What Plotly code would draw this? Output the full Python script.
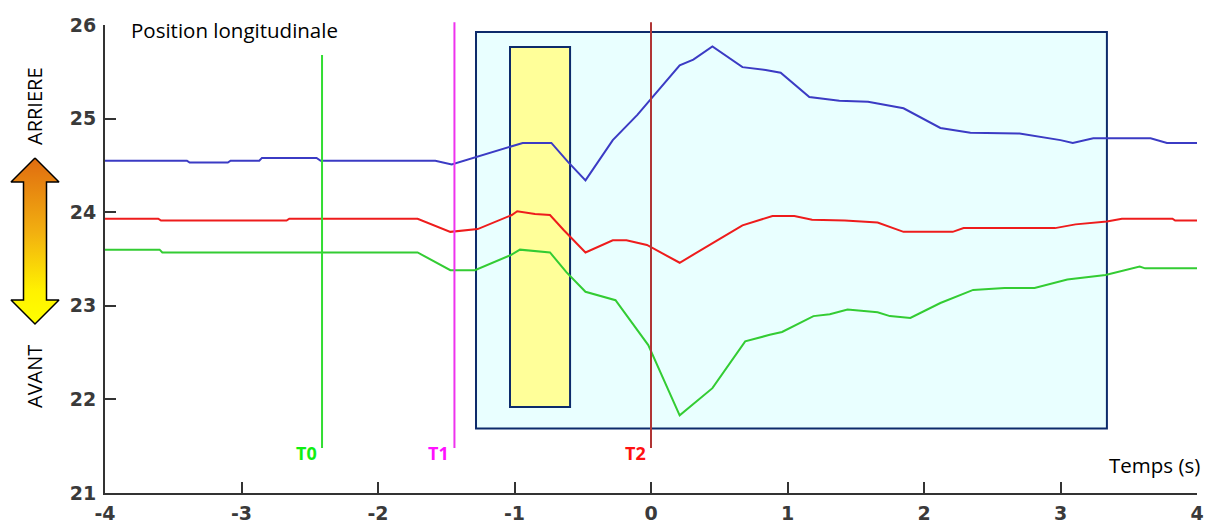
import plotly.graph_objects as go

# ---------------- data ----------------
t_blue = [-4.0, -3.40, -3.38, -3.10, -3.08, -2.87, -2.85, -2.45, -2.42, -1.58, -1.46, -1.30,
          -1.03, -0.94, -0.73, -0.61, -0.48, -0.28, -0.10, 0.21, 0.31, 0.45, 0.67, 0.84,
          0.95, 1.16, 1.38, 1.59, 1.85, 2.12, 2.34, 2.70, 3.00, 3.09, 3.24, 3.66, 3.78, 4.0]
blue = [24.55, 24.55, 24.53, 24.53, 24.55, 24.55, 24.58, 24.58, 24.55, 24.55, 24.51, 24.58,
        24.70, 24.74, 24.74, 24.54, 24.34, 24.77, 25.04, 25.57, 25.63, 25.77, 25.55, 25.52,
        25.49, 25.23, 25.19, 25.18, 25.11, 24.90, 24.85, 24.84, 24.77, 24.74, 24.79, 24.79, 24.74, 24.74]

t_red = [-4.0, -3.61, -3.59, -2.67, -2.65, -1.71, -1.47, -1.27, -1.02, -0.98, -0.85, -0.74,
         -0.64, -0.48, -0.28, -0.18, -0.03, 0.21, 0.51, 0.67, 0.89, 1.05, 1.18, 1.42, 1.66,
         1.85, 2.21, 2.29, 2.96, 3.11, 3.34, 3.45, 3.82, 3.84, 4.0]
red = [23.93, 23.93, 23.91, 23.91, 23.93, 23.93, 23.79, 23.82, 23.97, 24.01, 23.98, 23.97,
       23.81, 23.57, 23.70, 23.70, 23.65, 23.46, 23.72, 23.86, 23.96, 23.96, 23.92, 23.91, 23.89,
       23.79, 23.79, 23.83, 23.83, 23.87, 23.90, 23.93, 23.93, 23.91, 23.91]

t_green = [-4.0, -3.60, -3.58, -1.71, -1.47, -1.29, -1.03, -0.96, -0.74, -0.62, -0.48, -0.26,
           -0.02, 0.21, 0.45, 0.69, 0.87, 0.96, 1.19, 1.31, 1.44, 1.66, 1.75, 1.90, 2.12, 2.36,
           2.59, 2.81, 3.05, 3.22, 3.33, 3.58, 3.62, 4.0]
green = [23.60, 23.60, 23.57, 23.57, 23.38, 23.38, 23.54, 23.60, 23.57, 23.36, 23.15, 23.06,
         22.58, 21.83, 22.12, 22.62, 22.69, 22.72, 22.89, 22.91, 22.96, 22.93, 22.89, 22.87, 23.03, 23.17,
         23.19, 23.19, 23.28, 23.31, 23.33, 23.42, 23.40, 23.40]

x_ticks = [-4, -3, -2, -1, 0, 1, 2, 3, 4]
y_ticks = [21, 22, 23, 24, 25, 26]

event_times = [-2.41, -1.44, 0.0]
event_labels = ["T0", "T1", "T2"]
event_tops = [25.68, 26.03, 26.03]
event_bottom = 21.48
event_line_colors = ["#33dd33", "#ee33ee", "#b03535"]
event_text_colors = ["#11ee11", "#ff11ff", "#ff1111"]

zone_x = [-1.282, 3.34]
zone_y = [21.69, 25.925]
hl_x = [-1.033, -0.593]
hl_y = [21.92, 25.765]

# ---------------- layout geometry ----------------
W, H = 1222, 525
XD = [105 / W, 1197 / W]
YD = [32 / H, 500 / H]
YR = [21, 26]


def ypaper(v):
    return YD[0] + (v - YR[0]) / (YR[1] - YR[0]) * (YD[1] - YD[0])


fig = go.Figure()

for t, v, c in [(t_blue, blue, "#3b3bc4"), (t_red, red, "#ee1c1c"), (t_green, green, "#33cc33")]:
    fig.add_trace(go.Scatter(x=t, y=v, mode="lines", line=dict(color=c, width=2),
                             showlegend=False, hoverinfo="skip", xaxis="x", yaxis="y"))

# double arrow (decoration in the left margin, pixel frame)
ax = [35, 59, 46.5, 46.5, 59, 35, 11, 23.5, 23.5, 11, 35]
ay_px = [158, 182, 182, 300, 300, 324, 300, 300, 182, 182, 158]
ay = [H - p for p in ay_px]
fig.add_trace(go.Scatter(
    x=ax, y=ay, mode="lines", fill="toself",
    line=dict(color="black", width=1.5),
    fillgradient=dict(type="vertical",
                      colorscale=[[0, "#ffff00"], [0.2, "#fff200"], [0.55, "#f2b010"], [1, "#e06c10"]],
                      start=H - 324, stop=H - 158),
    showlegend=False, hoverinfo="skip", xaxis="x2", yaxis="y2"))

shapes = [
    dict(type="rect", xref="x", yref="y", x0=zone_x[0], x1=zone_x[1], y0=zone_y[0], y1=zone_y[1],
         fillcolor="#e9ffff", line=dict(color="#0d2b6b", width=2), layer="below"),
    dict(type="rect", xref="x", yref="y", x0=hl_x[0], x1=hl_x[1], y0=hl_y[0], y1=hl_y[1],
         fillcolor="#ffff99", line=dict(color="#0d2b6b", width=2), layer="below"),
]
annotations = []
for t, lab, top, lc, tc in zip(event_times, event_labels, event_tops, event_line_colors, event_text_colors):
    shapes.append(dict(type="line", xref="x", yref="paper", x0=t, x1=t,
                       y0=ypaper(event_bottom), y1=ypaper(top),
                       line=dict(color=lc, width=2), layer="above"))
    annotations.append(dict(x=t, xref="x", y=(H - 453) / H, yref="paper", text=lab, showarrow=False,
                            xanchor="right", yanchor="middle", xshift=-3,
                            font=dict(family="Open Sans", size=18, color=tc, weight="bold")))

annotations += [
    dict(x=129 / W, y=(H - 30) / H, xref="paper", yref="paper", text="Position longitudinale",
         showarrow=False, xanchor="left", yanchor="middle",
         font=dict(family="Open Sans", size=20.5, color="black")),
    dict(x=1202 / W, y=(H - 465) / H, xref="paper", yref="paper", text="Temps (s)",
         showarrow=False, xanchor="right", yanchor="middle",
         font=dict(family="Open Sans", size=20.5, color="black")),
    dict(x=34 / W, y=(H - 106) / H, xref="paper", yref="paper", text="ARRIERE", textangle=-90,
         showarrow=False, xanchor="center", yanchor="middle",
         font=dict(family="Open Sans", size=20, color="black")),
    dict(x=34 / W, y=(H - 377) / H, xref="paper", yref="paper", text="AVANT", textangle=-90,
         showarrow=False, xanchor="center", yanchor="middle",
         font=dict(family="Open Sans", size=20, color="black")),
]

tickfont = dict(family="DejaVu Sans", size=19, color="#3a3a3a", weight="bold")

fig.update_layout(
    width=W, height=H,
    margin=dict(l=0, r=0, t=0, b=0, autoexpand=False),
    plot_bgcolor="white", paper_bgcolor="white",
    showlegend=False,
    shapes=shapes,
    annotations=annotations,
    xaxis=dict(domain=XD, range=[-4, 4], tickvals=x_ticks, ticktext=[str(v) for v in x_ticks],
               ticks="inside", ticklen=11, tickwidth=2, tickcolor="#333",
               showline=True, linecolor="#333", linewidth=2, showgrid=False, zeroline=False,
               tickfont=tickfont, anchor="y", fixedrange=True, automargin=False, ticklabelstandoff=2),
    yaxis=dict(domain=YD, range=YR, tickvals=y_ticks,
               ticks="inside", ticklen=11, tickwidth=2, tickcolor="#333",
               showline=True, linecolor="#333", linewidth=2, showgrid=False, zeroline=False,
               tickfont=tickfont, anchor="x", fixedrange=True, automargin=False, ticklabelstandoff=3),
    xaxis2=dict(domain=[0, 105 / W], range=[0, 105], visible=False, anchor="y2", fixedrange=True,
                automargin=False),
    yaxis2=dict(domain=[0, 1], range=[0, H], visible=False, anchor="x2", fixedrange=True,
                automargin=False),
)

fig.write_html("out.html", config={"displayModeBar": False},
               post_script="document.body.style.margin='0';document.body.style.overflow='hidden';")
